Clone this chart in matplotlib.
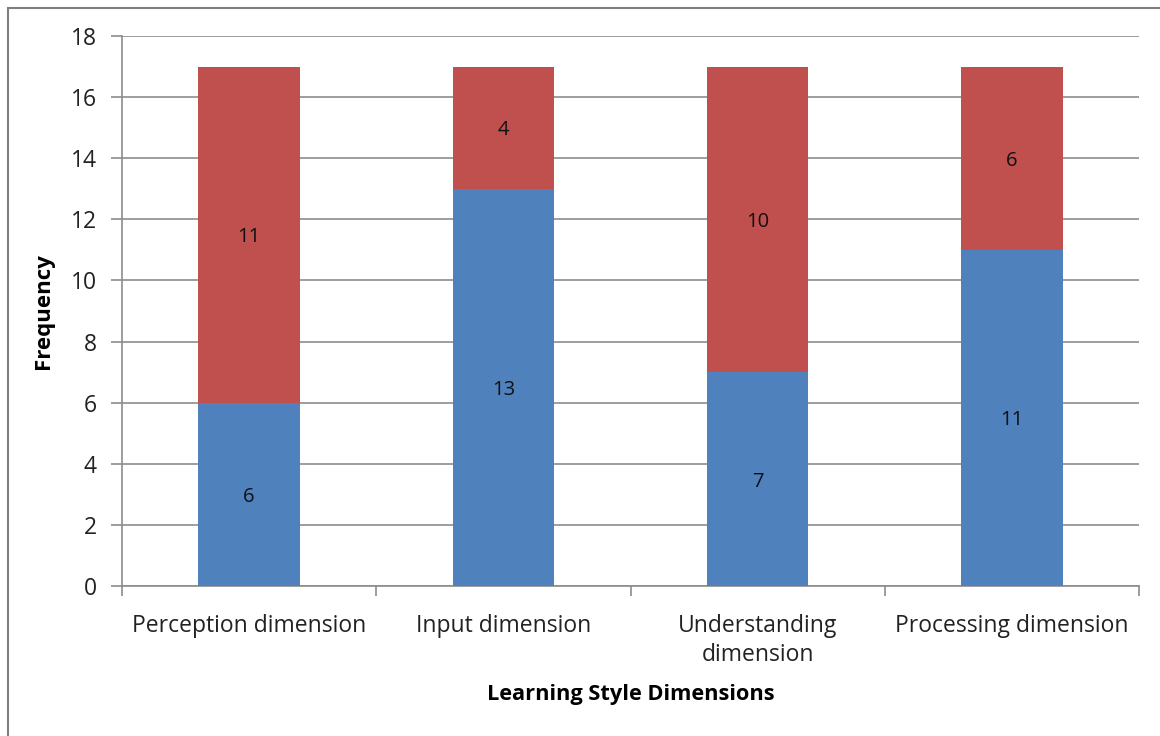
import matplotlib

matplotlib.use("Agg")
import matplotlib.pyplot as plt
from matplotlib.patches import Rectangle
import numpy as np

categories = [
    "Perception dimension",
    "Input dimension",
    "Understanding\ndimension",
    "Processing dimension",
]
lower_counts = [6, 13, 7, 11]
upper_counts = [11, 4, 10, 6]
y_ticks = [0, 2, 4, 6, 8, 10, 12, 14, 16, 18]

BLUE = "#4F81BD"
RED = "#C0504D"
GRID = "#8C8C8C"

plt.rcParams["font.family"] = ["Open Sans", "DejaVu Sans"]

fig = plt.figure(figsize=(11.6, 7.36), dpi=100)
ax = fig.add_axes([122 / 1160, 1 - 586 / 736, (1139 - 122) / 1160, (586 - 36) / 736])

# outer chart frame (runs off the right and bottom edge)
fig.patches.append(
    Rectangle((8 / 1160, -0.1), 1.2, 1 - 8 / 736 + 0.1, transform=fig.transFigure,
              fill=False, edgecolor="#7F7F7F", linewidth=1.5)
)

x = np.arange(len(categories))
width = 0.4
ax.bar(x, lower_counts, width=width, color=BLUE, zorder=3)
ax.bar(x, upper_counts, width=width, bottom=lower_counts, color=RED, zorder=3)

for xi, lo, up in zip(x, lower_counts, upper_counts):
    ax.text(xi, lo / 2, f"{lo}", ha="center", va="center_baseline", fontsize=14.5,
            color="#111111", zorder=4)
    ax.text(xi, lo + up / 2, f"{up}", ha="center", va="center_baseline", fontsize=14.5,
            color="#111111", zorder=4)

ax.set_xlim(-0.5, len(categories) - 0.5)
ax.set_ylim(0, 18)
ax.set_yticks(y_ticks)
ax.yaxis.grid(True, color=GRID, linewidth=1.2, zorder=0)

ax.set_xticks(x)
ax.set_xticklabels(categories, fontsize=16.5, color="#222222", linespacing=1.3)
ax.set_xticks(np.arange(-0.5, len(categories)), minor=True)
ax.tick_params(axis="x", which="major", length=0, pad=20)
ax.tick_params(axis="x", which="minor", length=7, color=GRID, width=1.2)
ax.tick_params(axis="y", length=8, color=GRID, width=1.2, labelsize=16.5,
               labelcolor="#222222", pad=10)

for side in ["top", "right"]:
    ax.spines[side].set_visible(False)
for side in ["left", "bottom"]:
    ax.spines[side].set_color(GRID)
    ax.spines[side].set_linewidth(1.2)

ax.set_ylabel("Frequency", fontsize=16, fontweight="bold", labelpad=12)
ax.set_xlabel("Learning Style Dimensions", fontsize=15.7, fontweight="bold", labelpad=12)

fig.savefig("out.png", dpi=100)
